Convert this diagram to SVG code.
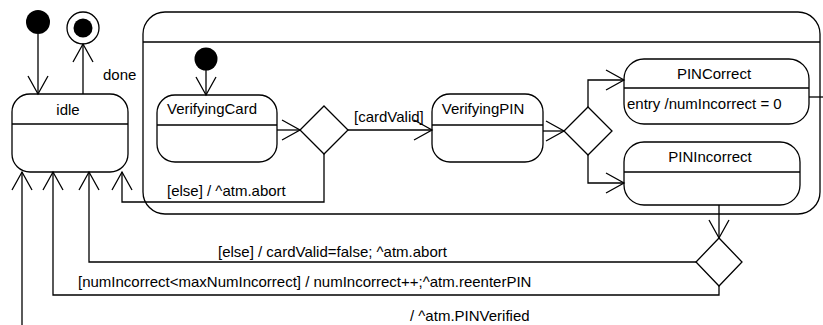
<svg xmlns="http://www.w3.org/2000/svg" width="823" height="325" viewBox="0 0 823 325">
<style>
.st{fill:#fff;stroke:#000;stroke-width:1.3}
.dv{stroke:#000;stroke-width:1.3}
.cn{fill:none;stroke:#000;stroke-width:1.3}
text{font-family:"Liberation Sans",Arial,sans-serif;font-size:15px;fill:#000}
.m{text-anchor:middle}
</style>
<defs>
<marker id="arr" markerUnits="userSpaceOnUse" viewBox="-20 -12 22 24" markerWidth="22" markerHeight="24" refX="0" refY="0" orient="auto" overflow="visible">
<path d="M-18 -10 L0 0 L-18 10" fill="none" stroke="#000" stroke-width="1.3"/>
</marker>
</defs>
<rect width="823" height="325" fill="#fff"/>
<g id="composite">
<rect class="st" x="143" y="12" width="677" height="202" rx="22"/>
<line class="dv" x1="143" y1="42" x2="820" y2="42"/>
</g>
<g id="initial"><circle cx="38" cy="22" r="12" fill="#000"/></g>
<g id="final"><circle cx="83" cy="28" r="16" fill="#fff" stroke="#000" stroke-width="1.3"/><circle cx="83" cy="28" r="9.5" fill="#000"/></g>
<g id="idle">
<rect class="st" x="12" y="94" width="116" height="78" rx="18"/>
<line class="dv" x1="12" y1="124" x2="128" y2="124"/>
<text class="m" x="68" y="115">idle</text>
</g>
<g id="initial2"><circle cx="206" cy="59" r="11.5" fill="#000"/></g>
<g id="VerifyingCard">
<rect class="st" x="157" y="95" width="120" height="67" rx="18"/>
<line class="dv" x1="157" y1="125" x2="277" y2="125"/>
<text class="m" x="212" y="114">VerifyingCard</text>
</g>
<g id="choice1"><polygon class="st" points="324,106 348,130 324,154 300,130"/></g>
<g id="VerifyingPIN">
<rect class="st" x="432" y="94" width="111" height="68" rx="18"/>
<line class="dv" x1="432" y1="125" x2="543" y2="125"/>
<text class="m" x="483" y="114">VerifyingPIN</text>
</g>
<g id="choice2"><polygon class="st" points="588,107 612,131 588,155 564,131"/></g>
<g id="PINCorrect">
<rect class="st" x="624" y="59" width="185" height="65" rx="20"/>
<line class="dv" x1="624" y1="88" x2="809" y2="88"/>
<text class="m" x="714" y="79">PINCorrect</text>
<text x="627" y="109">entry /numIncorrect = 0</text>
</g>
<g id="PINIncorrect">
<rect class="st" x="624" y="142" width="176" height="63" rx="20"/>
<line class="dv" x1="624" y1="172" x2="800" y2="172"/>
<text class="m" x="710" y="162">PINIncorrect</text>
</g>
<g id="choice3"><polygon class="st" points="719,238 742,262 719,286 696,262"/></g>
<g id="connectors">
<path class="cn" d="M38 34 L38 94" marker-end="url(#arr)"/>
<path class="cn" d="M83 94 L83 44" marker-end="url(#arr)"/>
<path class="cn" d="M206 70 L206 95" marker-end="url(#arr)"/>
<path class="cn" d="M277 130 L300 130" marker-end="url(#arr)"/>
<path class="cn" d="M348 130 L432 130" marker-end="url(#arr)"/>
<path class="cn" d="M324 154 L324 202 L122 202 L122 172" marker-end="url(#arr)"/>
<path class="cn" d="M543 131 L564 131" marker-end="url(#arr)"/>
<path class="cn" d="M588 107 L588 80 L624 80" marker-end="url(#arr)"/>
<path class="cn" d="M588 155 L588 183 L624 183" marker-end="url(#arr)"/>
<path class="cn" d="M719 205 L719 238" marker-end="url(#arr)"/>
<path class="cn" d="M696 262 L89 262 L89 172" marker-end="url(#arr)"/>
<path class="cn" d="M719 286 L719 295 L53 295 L53 172" marker-end="url(#arr)"/>
<path class="cn" d="M809 97 L823 97"/>
<path class="cn" d="M22 325 L22 172" marker-end="url(#arr)"/>
<text x="103" y="80">done</text>
<text x="354" y="122">[cardValid]</text>
<text x="167" y="196">[else] / ^atm.abort</text>
<text x="218" y="257">[else] / cardValid=false; ^atm.abort</text>
<text x="78" y="287">[numIncorrect&lt;maxNumIncorrect] / numIncorrect++;^atm.reenterPIN</text>
<text x="410" y="321">/ ^atm.PINVerified</text>
</g>
</svg>
